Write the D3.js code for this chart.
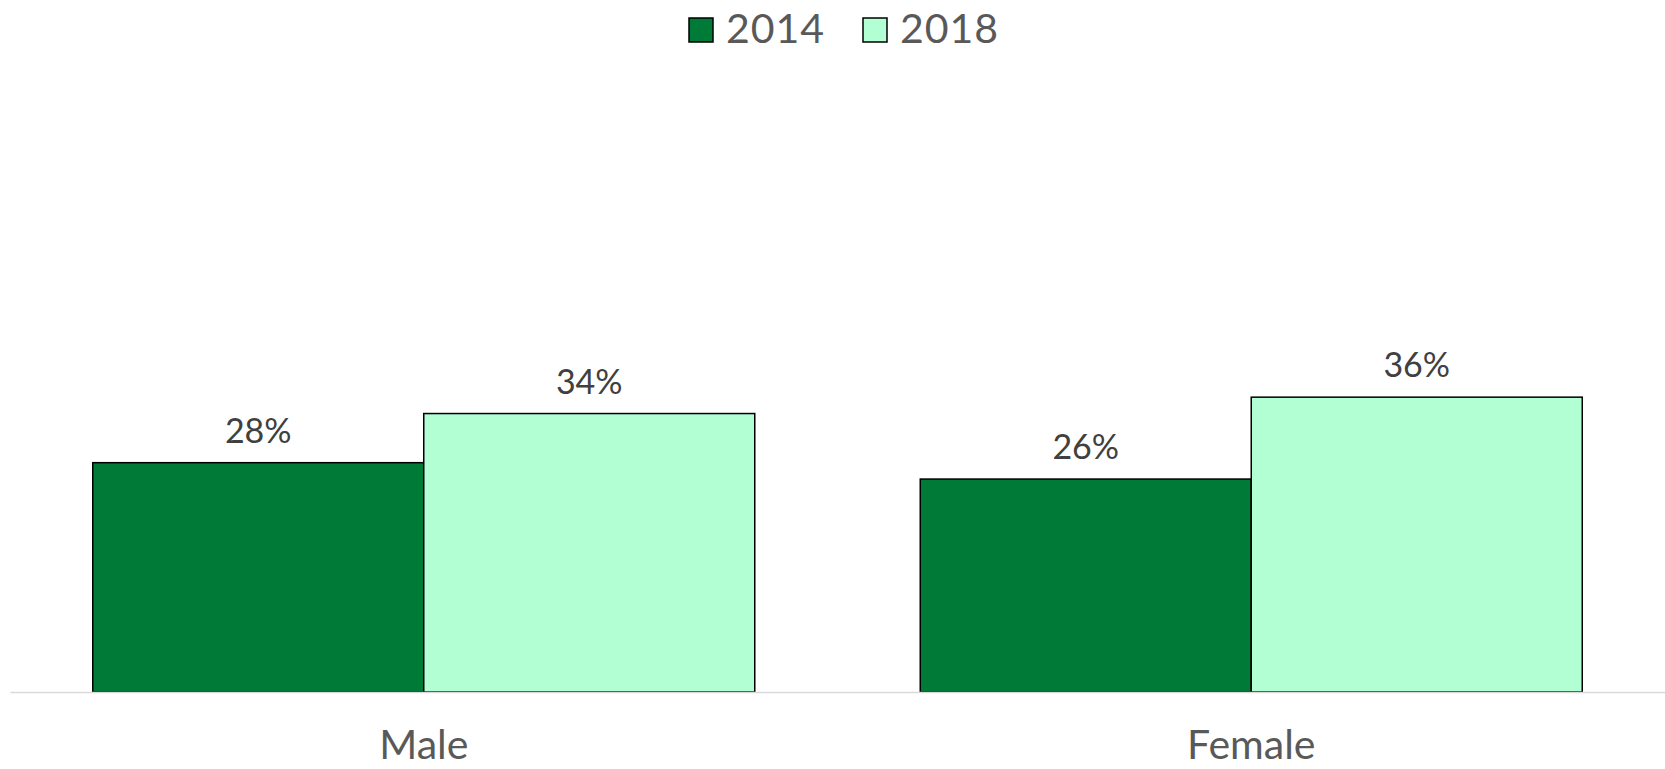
<!DOCTYPE html>
<html>
<head>
<meta charset="utf-8">
<script src="https://cdn.jsdelivr.net/npm/d3@7"></script>
<style>
  body { margin: 0; background: #fff; }
  text { font-family: "Century Gothic", "Lato", "DejaVu Sans", sans-serif; }
</style>
</head>
<body>
<div id="chart"></div>
<script>
    // data
    var categories = ["Male", "Female"];
    var years = ["2014", "2018"];
    var values2014 = [28, 26];
    var values2018 = [34, 36];
    var colors = ["#007a37", "#b3ffd4"];

    var width = 1665, height = 769;
    var margin = {top: 70, right: 0, bottom: 77, left: 10};

    var svg = d3.select("#chart")
      .append("svg")
        .attr("width", width)
        .attr("height", height);

    var data = categories.map(function(c, i) {
      return {cat: c, vals: [values2014[i], values2018[i]]};
    });

    // x scales
    var x0 = d3.scaleBand()
      .domain(categories)
      .range([margin.left, width - margin.right])
      .paddingInner(0.2)
      .paddingOuter(0.1);

    var x1 = d3.scaleBand()
      .domain(years)
      .range([0, x0.bandwidth()]);

    // y scale, 0 at the baseline
    var y = d3.scaleLinear()
      .domain([0, 76])
      .range([height - margin.bottom, height - margin.bottom - 76 * 8.19]);

    var groups = svg.selectAll(".grp")
      .data(data)
      .enter().append("g")
        .attr("class", "grp")
        .attr("transform", function(d) { return "translate(" + x0(d.cat) + ",0)"; });

    groups.selectAll("rect")
      .data(function(d) { return d.vals.map(function(v, j) { return {year: years[j], v: v, j: j}; }); })
      .enter().append("rect")
        .attr("x", function(d) { return x1(d.year); })
        .attr("y", function(d) { return y(d.v); })
        .attr("width", x1.bandwidth())
        .attr("height", function(d) { return y(0) - y(d.v); })
        .attr("fill", function(d) { return colors[d.j]; })
        .attr("stroke", "#000")
        .attr("stroke-width", 1.5);

    // value labels
    groups.selectAll(".lbl")
      .data(function(d) { return d.vals.map(function(v, j) { return {year: years[j], v: v}; }); })
      .enter().append("text")
        .attr("class", "lbl")
        .attr("x", function(d) { return x1(d.year) + x1.bandwidth() / 2; })
        .attr("y", function(d) { return y(d.v) - 20; })
        .attr("text-anchor", "middle")
        .style("font-size", "34px")
        .style("fill", "#404040")
        .text(function(d) { return d.v + "%"; });

    // x axis
    var xAxis = svg.append("g")
      .attr("transform", "translate(0," + y(0) + ")")
      .call(d3.axisBottom(x0).tickSize(0).tickPadding(38));
    xAxis.select(".domain").attr("stroke", "#d9d9d9").attr("stroke-width", 1.5);
    xAxis.selectAll("text")
      .style("font-size", "41px")
      .style("fill", "#595959")
      .style("font-family", "\"Century Gothic\", \"Lato\", \"DejaVu Sans\", sans-serif");

    // legend
    var legendX = [689, 863];
    var legend = svg.append("g");
    years.forEach(function(yr, j) {
      legend.append("rect")
        .attr("x", legendX[j])
        .attr("y", 18)
        .attr("width", 24)
        .attr("height", 24)
        .attr("fill", colors[j])
        .attr("stroke", "#000")
        .attr("stroke-width", 1.5);
      legend.append("text")
        .attr("x", legendX[j] + 37)
        .attr("y", 43)
        .style("font-size", "41px")
        .style("letter-spacing", "1px")
        .style("fill", "#595959")
        .text(yr);
    });
</script>
</body>
</html>
